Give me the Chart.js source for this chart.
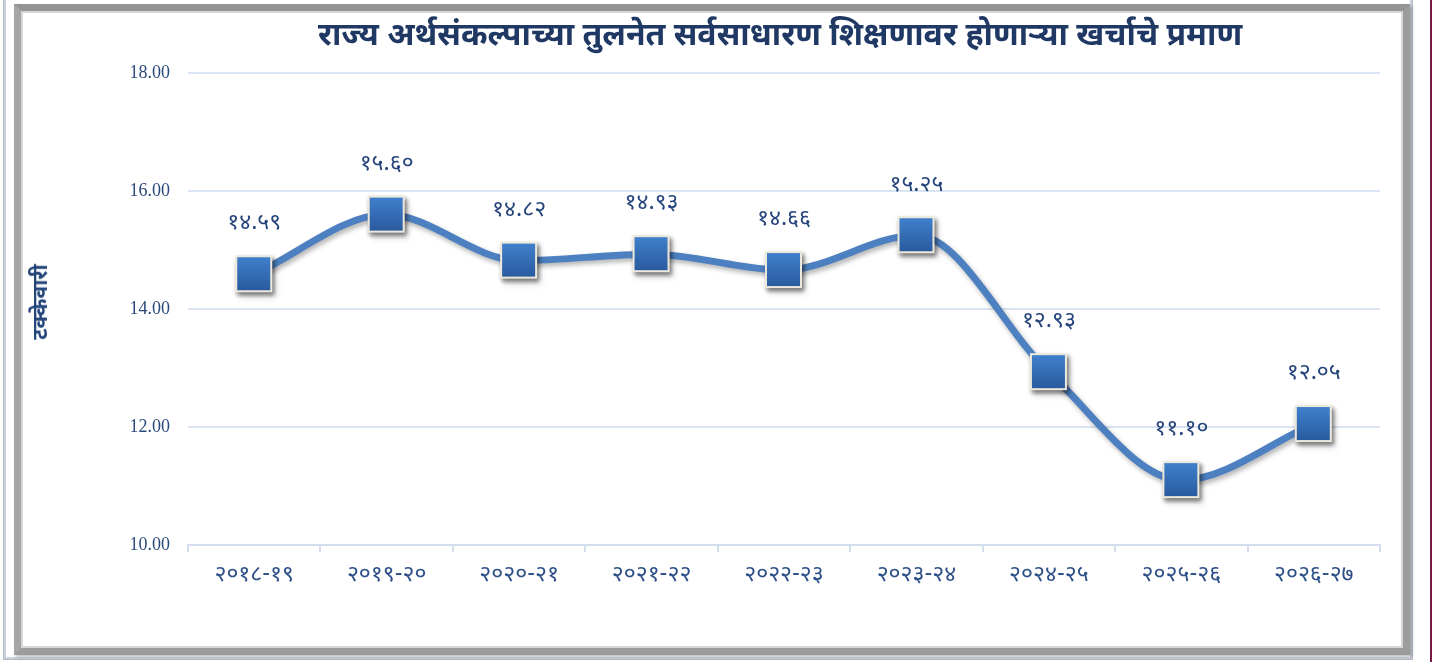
<!DOCTYPE html>
<html>
<head>
<meta charset="utf-8">
<script src="https://cdn.jsdelivr.net/npm/chart.js@4"></script>
<style>
  html, body { margin: 0; padding: 0; background: #fff; }
  body { width: 1434px; height: 662px; position: relative; overflow: hidden; }
  .outer { position: absolute; left: 4px; top: -6px; width: 1404px; height: 661px; border: 2px solid #c9d3e0; box-shadow: 0 0 0 1px #b8b8b8; }
  .frame { position: absolute; left: 14px; top: 4px; width: 1382px; height: 637px;
           border: 7px solid #9c9c9c; border-top-color: #949494; border-left-color: #a5a5a5;
           box-shadow: inset 0 0 0 2px #d6d6d6, 2px 2px 3px rgba(0,0,0,0.25); }
  .maroon { position: absolute; left: 1430px; top: 0; width: 2px; height: 662px; background: #7a1b45; }
  #wrap { position: absolute; left: 0; top: 0; width: 1434px; height: 662px; }
  .title { position: absolute; left: 180px; width: 1200px; top: 17px; text-align: center;
           font-family: "Noto Sans Devanagari", "Lohit Devanagari", "Noto Sans", sans-serif;
           font-weight: bold; font-size: 32px; line-height: 40px; color: #1f3864; }
  .ytitle { position: absolute; left: 42px; top: 302px; transform: translate(-50%, -50%) rotate(-90deg);
            font-family: "Noto Sans Devanagari", "Lohit Devanagari", "Noto Sans", sans-serif;
            font-weight: bold; font-size: 21px; color: #24457a; white-space: nowrap; }
</style>
</head>
<body>
<div class="outer"></div>
<div class="frame"></div>
<div class="maroon"></div>
<div id="wrap"><canvas id="chart"></canvas></div>
<div class="title">राज्य अर्थसंकल्पाच्या तुलनेत सर्वसाधारण शिक्षणावर होणाऱ्या खर्चाचे प्रमाण</div>
<div class="ytitle">टक्केवारी</div>
<script>
// वर्षे आणि टक्केवारी
const categories = ['२०१८-१९', '२०१९-२०', '२०२०-२१', '२०२१-२२', '२०२२-२३', '२०२३-२४', '२०२४-२५', '२०२५-२६', '२०२६-२७'];
const values = [14.59, 15.60, 14.82, 14.93, 14.66, 15.25, 12.93, 11.10, 12.05];
const yTicks = [10, 12, 14, 16, 18];

const devFont = '"Noto Sans Devanagari", "Lohit Devanagari", "Noto Sans", sans-serif';
const devDigits = '०१२३४५६७८९';
function toDevanagari(str) {
  return String(str).replace(/[0-9]/g, d => devDigits[d]);
}

// चौकोनी मार्कर (ग्रेडियंट + सावली)
function makeMarker() {
  const c = document.createElement('canvas');
  c.width = 48; c.height = 48;
  const g = c.getContext('2d');
  g.shadowColor = 'rgba(0,0,0,0.35)';
  g.shadowBlur = 4;
  g.shadowOffsetX = 2;
  g.shadowOffsetY = 3;
  g.fillStyle = '#ece9dc';
  g.fillRect(5, 5, 37, 37);
  g.shadowColor = 'transparent';
  const grad = g.createLinearGradient(0, 7, 0, 40);
  grad.addColorStop(0, '#4080cc');
  grad.addColorStop(1, '#2a5b9f');
  g.fillStyle = grad;
  g.fillRect(7, 7, 33, 33);
  return c;
}

const lineShadow = {
  id: 'lineShadow',
  beforeDatasetsDraw(chart) {
    const ctx = chart.ctx;
    ctx.save();
    ctx.shadowColor = 'rgba(0,0,0,0.3)';
    ctx.shadowBlur = 5;
    ctx.shadowOffsetX = 2;
    ctx.shadowOffsetY = 3;
  },
  afterDatasetsDraw(chart) {
    chart.ctx.restore();
  }
};

const valueLabels = {
  id: 'valueLabels',
  afterDatasetsDraw(chart) {
    const ctx = chart.ctx;
    const meta = chart.getDatasetMeta(0);
    ctx.save();
    ctx.font = '23px ' + devFont;
    ctx.fillStyle = '#25447c';
    ctx.textAlign = 'center';
    ctx.textBaseline = 'middle';
    meta.data.forEach((pt, i) => {
      ctx.fillText(toDevanagari(values[i].toFixed(2)), pt.x, pt.y - 49);
    });
    ctx.restore();
  }
};

const ctx = document.getElementById('chart');
new Chart(ctx, {
  type: 'line',
  data: {
    labels: categories,
    datasets: [{
      data: values,
      borderColor: '#4d80c0',
      borderWidth: 7,
      tension: 0.4,
      cubicInterpolationMode: 'monotone',
      pointStyle: makeMarker(),
      pointRadius: 20,
      pointHoverRadius: 20
    }]
  },
  options: {
    responsive: true,
    maintainAspectRatio: false,
    animation: false,
    layout: { padding: { left: 0, top: 73, right: 54, bottom: 0 } },
    plugins: {
      legend: { display: false },
      tooltip: { enabled: false },
      title: { display: false }
    },
    scales: {
      x: {
        offset: true,
        afterFit: s => { s.height = 117; },
        grid: {
          offset: true,
          drawOnChartArea: false,
          drawTicks: true,
          tickLength: 7,
          color: '#d3deec',
          lineWidth: 2
        },
        border: { color: '#d3deec', width: 2 },
        ticks: {
          padding: 11,
          color: '#2e5088',
          font: { family: devFont, size: 23 }
        }
      },
      y: {
        min: 10,
        max: 18,
        afterFit: s => { s.width = 188; },
        afterBuildTicks: s => { s.ticks = yTicks.map(v => ({ value: v })); },
        grid: { color: '#d9e4f2', lineWidth: 2, drawTicks: false },
        border: { display: false },
        ticks: {
          padding: 18,
          color: '#2b4a7c',
          font: { family: '"Liberation Serif", "Times New Roman", serif', size: 18 },
          callback: v => v.toFixed(2)
        }
      }
    }
  },
  plugins: [lineShadow, valueLabels]
});
</script>
</body>
</html>
